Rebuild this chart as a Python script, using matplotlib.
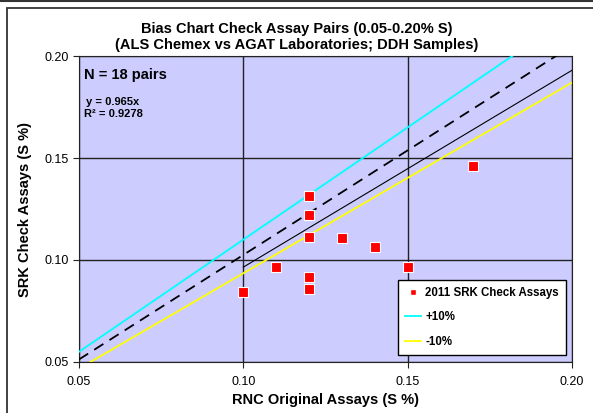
import matplotlib.pyplot as plt
import numpy as np
from matplotlib.lines import Line2D

plt.rcParams['font.family'] = ['Liberation Sans', 'DejaVu Sans']

# check assay pairs (S %)
original = [0.10, 0.11, 0.12, 0.12, 0.12, 0.12, 0.12, 0.13, 0.14, 0.15, 0.17]
check = [0.0845, 0.0964, 0.1314, 0.1220, 0.1111, 0.0915, 0.0856, 0.1110, 0.1062, 0.0964, 0.1462]

# reference line slopes as drawn
slope_plus = 1.10
slope_one = 1.025
slope_minus = 0.935
slope_fit = 0.965
fit_start = 0.10

ticks = [0.05, 0.10, 0.15, 0.20]
tick_labels = ["0.05", "0.10", "0.15", "0.20"]

fig = plt.figure(figsize=(5.93, 4.13), dpi=100)
W, H = 593, 413

# outer frame
fig.add_artist(plt.Line2D([0, 1], [1 - 0.8 / H, 1 - 0.8 / H], color='#333333', lw=1.5))
fig.add_artist(plt.Rectangle((7 / W, -0.1), 1.2, 1 - 8 / H + 0.1, fill=False,
                             edgecolor='#333333', lw=1.3))

ax = fig.add_axes([79 / W, 1 - 362 / H, (572 - 79) / W, (362 - 56) / H])
ax.set_facecolor('#CCCCFF')
ax.set_xlim(0.05, 0.20)
ax.set_ylim(0.05, 0.20)

xs = np.array([0.05, 0.20])
ax.plot(xs, slope_plus * xs, color='#00FFFF', lw=1.3, zorder=3)
ax.plot(xs, slope_one * xs, color='black', lw=1.3, dashes=(6, 4), zorder=3)
ax.plot(xs, slope_minus * xs, color='#FFFF00', lw=1.3, zorder=3)
xf = np.array([fit_start, 0.20])
ax.plot(xf, slope_fit * xf, color='black', lw=0.8, zorder=3)

ax.plot(original, check, 's', color='red', markersize=7, markeredgecolor='white',
        markeredgewidth=0.8, zorder=4, clip_on=False)

ax.set_xticks(ticks)
ax.set_xticklabels(tick_labels)
ax.set_yticks(ticks)
ax.set_yticklabels(tick_labels)
ax.grid(True, color='#222222', lw=1.0)
ax.set_axisbelow(True)
ax.tick_params(labelsize=9, length=4, width=0.8, color='#222222')
ax.tick_params(axis='x', pad=6)
for s in ax.spines.values():
    s.set_color('#222222')

ax.set_xlabel("RNC Original Assays (S %)", fontsize=10.5, fontweight='bold', labelpad=4)
ax.set_ylabel("SRK Check Assays (S %)", fontsize=10.5, fontweight='bold', labelpad=9)
fig.text(297 / W, 1 - 37 / H,
         "Bias Chart Check Assay Pairs (0.05-0.20% S)\n(ALS Chemex vs AGAT Laboratories; DDH Samples)",
         ha='center', va='center', fontsize=10.5, fontweight='bold', linespacing=1.2)

fig.text(84 / W, 1 - 75 / H, "N = 18 pairs", fontsize=10.5, fontweight='bold', va='center')
fig.text(86 / W, 1 - 102 / H, "y = 0.965x", fontsize=8, fontweight='bold', va='center')
fig.text(84 / W, 1 - 114 / H, "R² = 0.9278", fontsize=8, fontweight='bold', va='center')

handles = [
    Line2D([], [], marker='s', ls='none', color='red', markersize=5, markeredgecolor='white'),
    Line2D([], [], color='#00FFFF', lw=1.3),
    Line2D([], [], color='#FFFF00', lw=1.3),
]
leg = ax.legend(handles, ["2011 SRK Check Assays", "+10%", "-10%"],
                loc='lower right', bbox_to_anchor=(566 / W, 1 - 355 / H, 0, 0),
                bbox_transform=fig.transFigure, prop={'weight': 'bold', 'size': 8.3},
                frameon=True, fancybox=False, edgecolor='black', framealpha=1,
                handlelength=1.4, handletextpad=0.4, borderpad=0.6, borderaxespad=0,
                labelspacing=1.1)
leg.get_frame().set_linewidth(1.0)

fig.savefig("out.png", dpi=100)
